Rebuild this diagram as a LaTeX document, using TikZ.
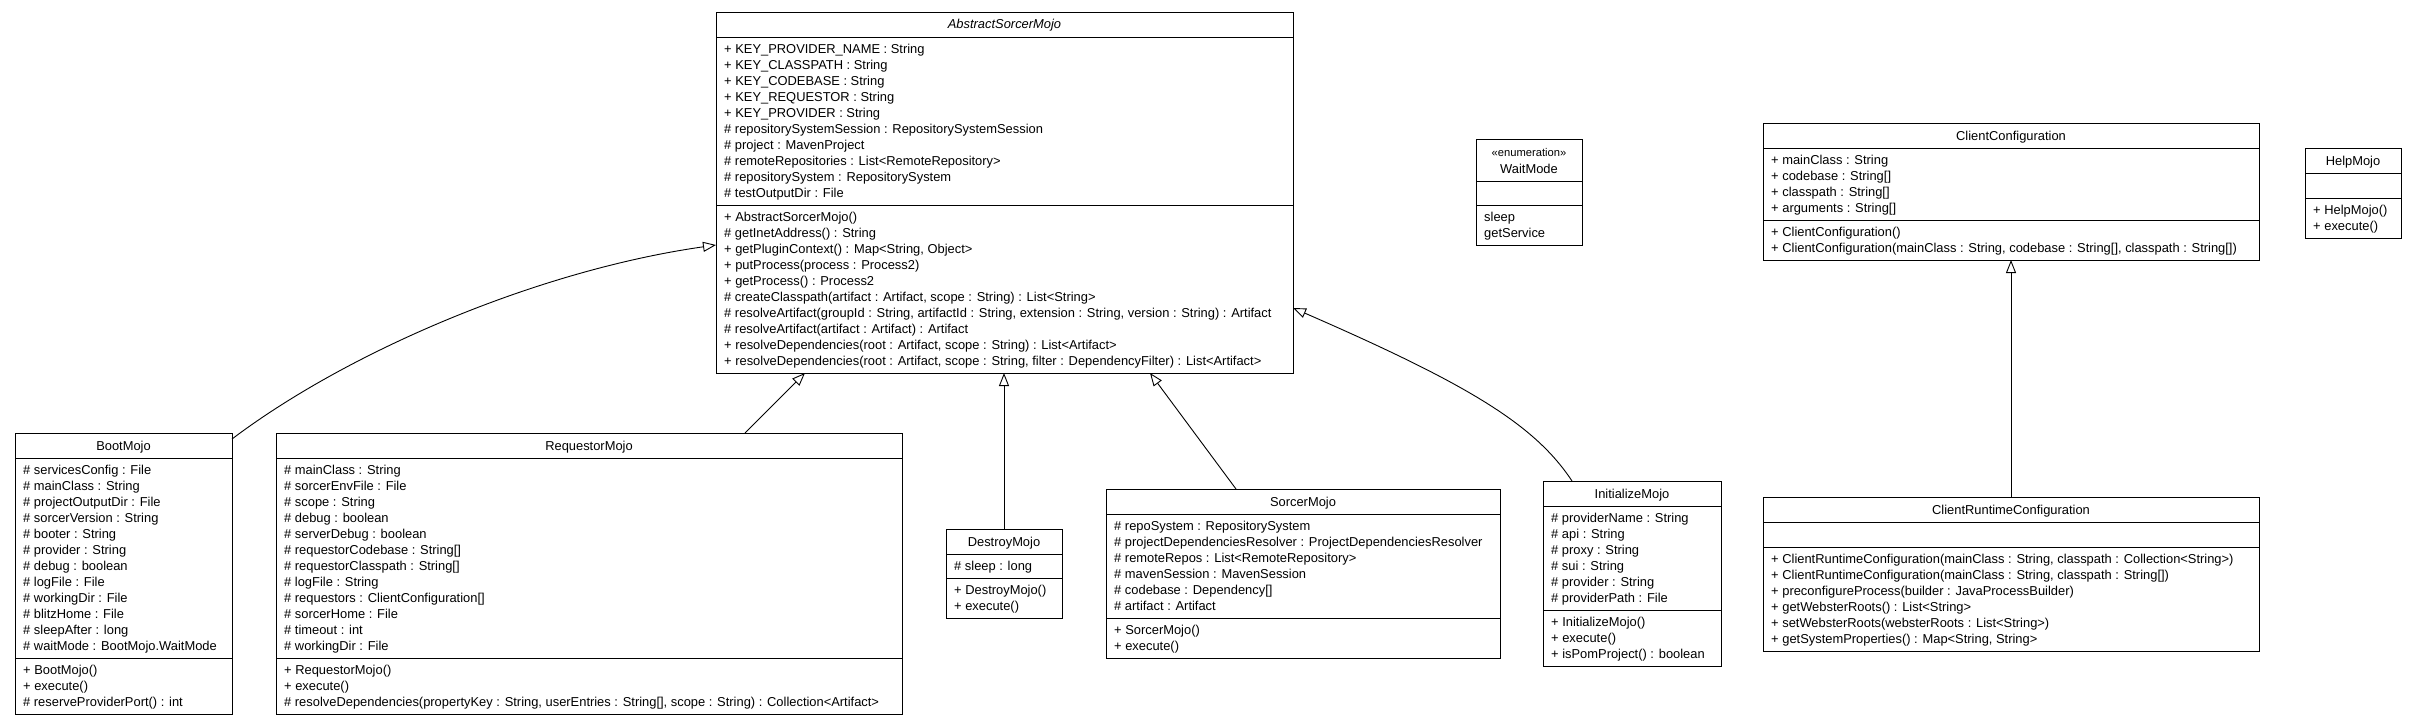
\documentclass[tikz,border=0pt]{standalone}
\usepackage{fontspec}
\setmainfont{Liberation Sans}
\usetikzlibrary{arrows.meta}
\tikzset{
  clsframe/.style={draw=black, line width=0.9pt, fill=white, inner sep=0pt, outer sep=0pt},
  clsline/.style={draw=black, line width=0.9pt},
  clstitle/.style={inner sep=0pt, font=\fontsize{12.9}{16}\selectfont},
  clstext/.style={inner sep=0pt, align=left, font=\fontsize{12.9}{16}\selectfont},
  stereo/.style={inner sep=0pt, font=\fontsize{11.2}{14}\selectfont},
  inherit/.style={draw=black, line width=0.9pt, -{Triangle[open,length=13pt,width=10pt]}},
}
\newcommand{\frm}[5]{\node[clsframe, anchor=north west, minimum width={#3-#2}, minimum height={#5-#4}] (#1) at (#2,#4) {};}
\newcommand{\hsep}[3]{\draw[clsline] (#1,#3) -- (#2,#3);}
\newcommand{\ttl}[4]{\node[clstitle, anchor=base] (#1) at (#2,#3) {#4};}
\newcommand{\cmp}[4]{\node[clstext, anchor=north west] (#1) at (#2,#3) {\rule{0pt}{12.5pt}#4};}
\begin{document}
\begin{tikzpicture}[x=1pt,y=-1pt]
\useasboundingbox[fill=white] (0,0) rectangle (2417,725);

% AbstractSorcerMojo
\frm{abs}{716}{1293}{12}{373}
\hsep{716}{1293}{37}\hsep{716}{1293}{205}
\ttl{abs-t}{1004.5}{29}{\itshape AbstractSorcerMojo}
\cmp{abs-a}{724}{41}{+ KEY\_PROVIDER\_NAME : String\\+ KEY\_CLASSPATH : String\\+ KEY\_CODEBASE : String\\+ KEY\_REQUESTOR : String\\+ KEY\_PROVIDER : String\\\# repositorySystemSession : RepositorySystemSession\\\# project : MavenProject\\\# remoteRepositories : List<RemoteRepository>\\\# repositorySystem : RepositorySystem\\\# testOutputDir : File}
\cmp{abs-m}{724}{209}{+ AbstractSorcerMojo()\\\# getInetAddress() : String\\+ getPluginContext() : Map<String, Object>\\+ putProcess(process : Process2)\\+ getProcess() : Process2\\\# createClasspath(artifact : Artifact, scope : String) : List<String>\\\# resolveArtifact(groupId : String, artifactId : String, extension : String, version : String) : Artifact\\\# resolveArtifact(artifact : Artifact) : Artifact\\+ resolveDependencies(root : Artifact, scope : String) : List<Artifact>\\+ resolveDependencies(root : Artifact, scope : String, filter : DependencyFilter) : List<Artifact>}

% BootMojo
\frm{boot}{15}{232}{433}{714}
\hsep{15}{232}{458}\hsep{15}{232}{658}
\ttl{boot-t}{123.5}{450}{BootMojo}
\cmp{boot-a}{23}{462}{\# servicesConfig : File\\\# mainClass : String\\\# projectOutputDir : File\\\# sorcerVersion : String\\\# booter : String\\\# provider : String\\\# debug : boolean\\\# logFile : File\\\# workingDir : File\\\# blitzHome : File\\\# sleepAfter : long\\\# waitMode : BootMojo.WaitMode}
\cmp{boot-m}{23}{662}{+ BootMojo()\\+ execute()\\\# reserveProviderPort() : int}

% RequestorMojo
\frm{req}{276}{902}{433}{714}
\hsep{276}{902}{458}\hsep{276}{902}{658}
\ttl{req-t}{589}{450}{RequestorMojo}
\cmp{req-a}{284}{462}{\# mainClass : String\\\# sorcerEnvFile : File\\\# scope : String\\\# debug : boolean\\\# serverDebug : boolean\\\# requestorCodebase : String[]\\\# requestorClasspath : String[]\\\# logFile : String\\\# requestors : ClientConfiguration[]\\\# sorcerHome : File\\\# timeout : int\\\# workingDir : File}
\cmp{req-m}{284}{662}{+ RequestorMojo()\\+ execute()\\\# resolveDependencies(propertyKey : String, userEntries : String[], scope : String) : Collection<Artifact>}

% DestroyMojo
\frm{des}{946}{1062}{529}{618}
\hsep{946}{1062}{554}\hsep{946}{1062}{578}
\ttl{des-t}{1004}{546}{DestroyMojo}
\cmp{des-a}{954}{558}{\# sleep : long}
\cmp{des-m}{954}{582}{+ DestroyMojo()\\+ execute()}

% SorcerMojo
\frm{sor}{1106}{1500}{489}{658}
\hsep{1106}{1500}{514}\hsep{1106}{1500}{618}
\ttl{sor-t}{1303}{506}{SorcerMojo}
\cmp{sor-a}{1114}{518}{\# repoSystem : RepositorySystem\\\# projectDependenciesResolver : ProjectDependenciesResolver\\\# remoteRepos : List<RemoteRepository>\\\# mavenSession : MavenSession\\\# codebase : Dependency[]\\\# artifact : Artifact}
\cmp{sor-m}{1114}{622}{+ SorcerMojo()\\+ execute()}

% InitializeMojo
\frm{ini}{1543}{1721}{481}{666}
\hsep{1543}{1721}{506}\hsep{1543}{1721}{610}
\ttl{ini-t}{1632}{498}{InitializeMojo}
\cmp{ini-a}{1551}{510}{\# providerName : String\\\# api : String\\\# proxy : String\\\# sui : String\\\# provider : String\\\# providerPath : File}
\cmp{ini-m}{1551}{614}{+ InitializeMojo()\\+ execute()\\+ isPomProject() : boolean}

% WaitMode
\frm{wm}{1476}{1582}{139}{245}
\hsep{1476}{1582}{181}\hsep{1476}{1582}{205}
\node[stereo, anchor=base] (wm-s) at (1529,156) {«enumeration»};
\ttl{wm-t}{1529}{173}{WaitMode}
\cmp{wm-m}{1484}{209}{sleep\\getService}

% ClientConfiguration
\frm{cc}{1763}{2259}{123}{260}
\hsep{1763}{2259}{148}\hsep{1763}{2259}{220}
\ttl{cc-t}{2011}{140}{ClientConfiguration}
\cmp{cc-a}{1771}{152}{+ mainClass : String\\+ codebase : String[]\\+ classpath : String[]\\+ arguments : String[]}
\cmp{cc-m}{1771}{224}{+ ClientConfiguration()\\+ ClientConfiguration(mainClass : String, codebase : String[], classpath : String[])}

% HelpMojo
\frm{hm}{2305}{2401}{148}{238}
\hsep{2305}{2401}{173}\hsep{2305}{2401}{198}
\ttl{hm-t}{2353}{165}{HelpMojo}
\cmp{hm-m}{2313}{202}{+ HelpMojo()\\+ execute()}

% ClientRuntimeConfiguration
\frm{crc}{1763}{2259}{497}{651}
\hsep{1763}{2259}{522}\hsep{1763}{2259}{547}
\ttl{crc-t}{2011}{514}{ClientRuntimeConfiguration}
\cmp{crc-m}{1771}{551}{+ ClientRuntimeConfiguration(mainClass : String, classpath : Collection<String>)\\+ ClientRuntimeConfiguration(mainClass : String, classpath : String[])\\+ preconfigureProcess(builder : JavaProcessBuilder)\\+ getWebsterRoots() : List<String>\\+ setWebsterRoots(websterRoots : List<String>)\\+ getSystemProperties() : Map<String, String>}

% generalizations
\draw[inherit] ([yshift=-6pt]boot.north east) .. controls (350,350) and (540,270) .. ([yshift=-52.5pt]abs.west);
\draw[inherit] ([xshift=156pt]req.north) -- ([xshift=-199.5pt]abs.south);
\draw[inherit] (des.north) -- (des.north |- abs.south);
\draw[inherit] ([xshift=-67pt]sor.north) -- ([xshift=145.5pt]abs.south);
\draw[inherit] ([xshift=-60pt]ini.north) .. controls (1535,425) and (1470,385) .. ([yshift=-115.5pt]abs.east);
\draw[inherit] (crc.north) -- (cc.south);
\end{tikzpicture}
\end{document}
